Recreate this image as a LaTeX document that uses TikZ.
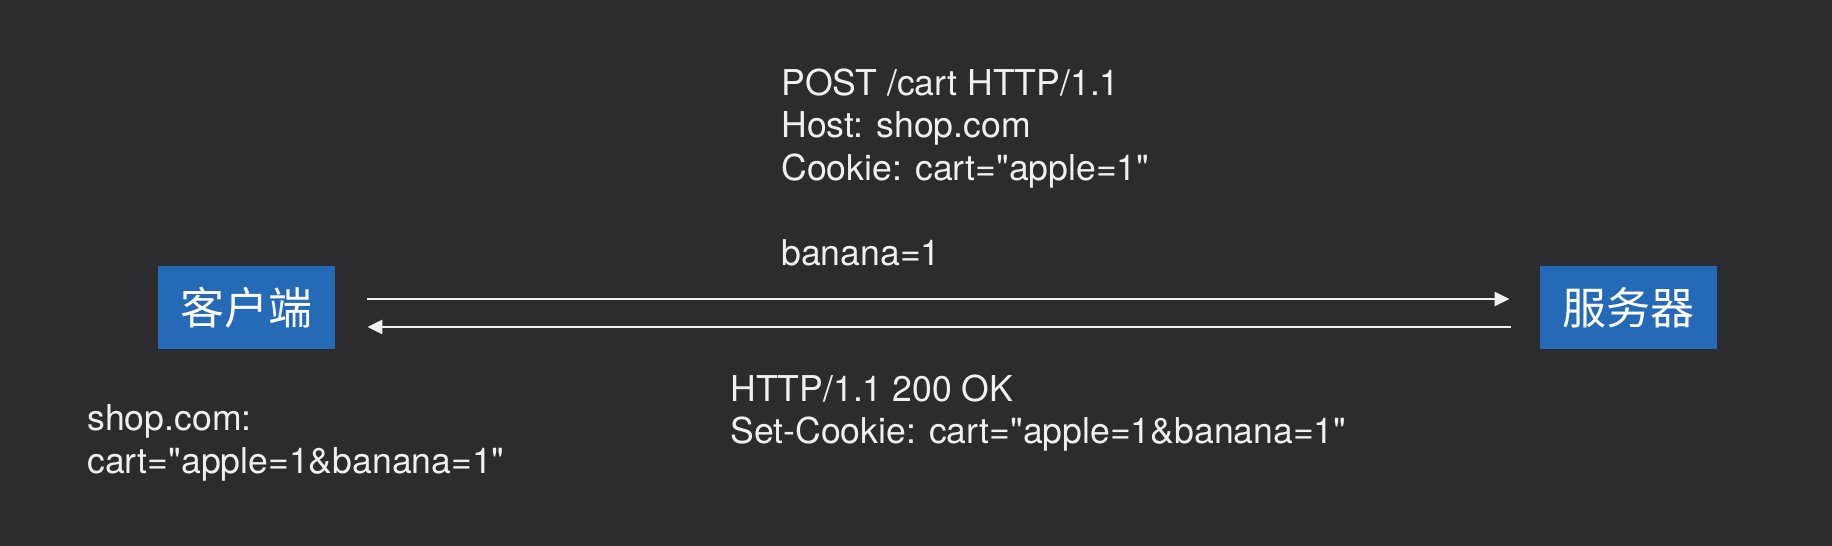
\documentclass[tikz,border=0pt]{standalone}
\usepackage{fontspec}
\setmainfont{TeX Gyre Heros}[Ligatures=TeXOff]
\newfontfamily\cjk{Noto Sans CJK SC}
\usepackage{xcolor}
\usetikzlibrary{arrows.meta}
\definecolor{bgdark}{HTML}{2C2C2E}
\definecolor{boxblue}{HTML}{256AB6}
\definecolor{txt}{HTML}{F0F0F0}

\begin{document}
\begin{tikzpicture}[x=0.5pt, y=-0.5pt,
    peer/.style={fill=boxblue, text=white, minimum width=88.5pt, minimum height=41.5pt, inner sep=0pt, font=\cjk\fontsize{22}{26}\selectfont},
    msg/.style={anchor=base west, align=left, text=txt, inner sep=0pt, font=\fontsize{17.8}{21.25}\selectfont},
    wire/.style={draw=txt, line width=1.4pt, -{Triangle[length=7.5pt,width=7pt]}}]
            % Fond
            \fill[bgdark] (0,0) rectangle (1832,546);
            \useasboundingbox (0,0) rectangle (1832,546);

            % Client et serveur
            \node[peer] (client) at (246.5,307.5) {客户端};
            \node[peer] (server) at (1628.5,307.5) {服务器};

            % Requête et réponse
            \draw[wire, shorten <=16pt, shorten >=15pt] ([yshift=4.25pt]client.east) -- ([yshift=4.25pt]server.west);
            \draw[wire, shorten <=14.5pt, shorten >=16pt] ([yshift=-9.75pt]server.west) -- ([yshift=-9.75pt]client.east);

            % Textes des messages (ancrés sur la dernière ligne)
            \node[msg] (request) at (781,265) {POST /cart HTTP/1.1\\Host: shop.com\\Cookie: cart="apple=1"\\[21.25pt]banana=1};
            \node[msg] (response) at (730,443.5) {HTTP/1.1 200 OK\\Set-Cookie: cart="apple=1\&banana=1"};

            % Cookie côté client
            \node[msg] (store) at (87,473) {shop.com:\\cart="apple=1\&banana=1"};
        \end{tikzpicture}
\end{document}
